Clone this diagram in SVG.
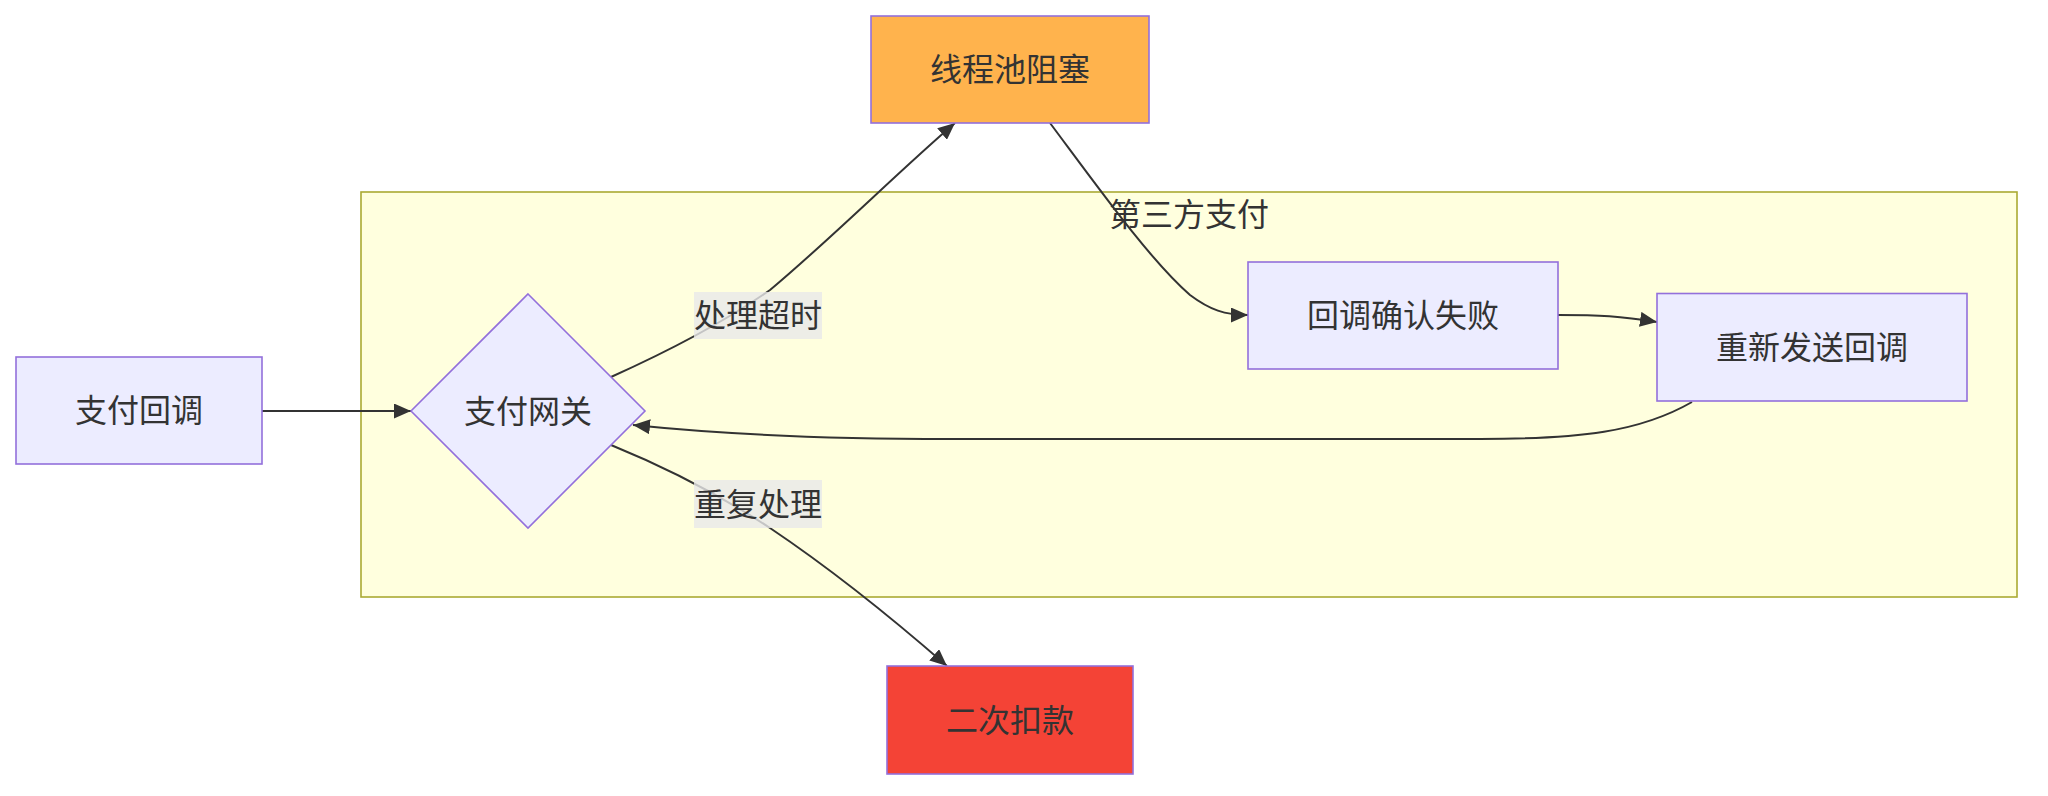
<svg xmlns="http://www.w3.org/2000/svg" width="2048" height="796" viewBox="0 0 2048 796">
<style>
.node rect, .node polygon { fill: #ECECFF; stroke: #9370DB; stroke-width: 1.6; }
.lbl { font-family: "Noto Sans CJK SC", "Noto Sans", "Liberation Sans", sans-serif; font-size: 32px; fill: #333333; text-anchor: middle; dominant-baseline: central; }
.edge { fill: none; stroke: #333333; stroke-width: 2; }
.elbg { fill: #E8E8E8; fill-opacity: 0.8; }
</style>
<defs>
<marker id="arrow" viewBox="0 0 17 15" refX="17" refY="7.5" markerWidth="17" markerHeight="15" markerUnits="userSpaceOnUse" orient="auto">
<path d="M0,0 L17,7.5 L0,15 z" fill="#333333"/>
</marker>
</defs>
<rect width="2048" height="796" fill="#FFFFFF"/>
<g id="cluster-third-party">
<rect x="361" y="192" width="1656" height="405" fill="#FFFFDE" stroke="#AAAA33" stroke-width="1.6"/>
<text class="lbl" x="1189" y="212">第三方支付</text>
</g>
<g id="connectors">
<path class="edge" d="M262,411 L411,411" marker-end="url(#arrow)"/>
<path class="edge" d="M611,377 C660,355 720,325 770,290 C830,240 900,170 955,123" marker-end="url(#arrow)"/>
<path class="edge" d="M1050,123 C1100,190 1150,260 1190,295 C1210,310 1225,315 1248,315" marker-end="url(#arrow)"/>
<path class="edge" d="M1558,315 C1600,315 1620,316 1657,322" marker-end="url(#arrow)"/>
<path class="edge" d="M1692,402 C1640,432 1580,439 1480,439 L950,439 C820,439 720,434 633,425" marker-end="url(#arrow)"/>
<path class="edge" d="M611,445 C660,465 720,495 770,528 C840,575 900,625 947,666" marker-end="url(#arrow)"/>
</g>
<g id="edge-labels">
<g id="label-timeout">
<rect class="elbg" x="694" y="292" width="128" height="47"/>
<text class="lbl" x="758" y="313">处理超时</text>
</g>
<g id="label-repeat">
<rect class="elbg" x="694" y="480" width="128" height="48"/>
<text class="lbl" x="758" y="501.5">重复处理</text>
</g>
</g>
<g id="node-callback" class="node">
<rect x="16" y="357" width="246" height="107"/>
<text class="lbl" x="139" y="408">支付回调</text>
</g>
<g id="node-gateway" class="node">
<polygon points="528,294 645,411 528,528 411,411"/>
<text class="lbl" x="528" y="408.5">支付网关</text>
</g>
<g id="node-threadpool" class="node">
<rect x="871" y="16" width="278" height="107" style="fill:#FFB34D"/>
<text class="lbl" x="1010" y="67">线程池阻塞</text>
</g>
<g id="node-confirm-fail" class="node">
<rect x="1248" y="262" width="310" height="107"/>
<text class="lbl" x="1403" y="313">回调确认失败</text>
</g>
<g id="node-resend" class="node">
<rect x="1657" y="293.5" width="310" height="107.5"/>
<text class="lbl" x="1812" y="344.5">重新发送回调</text>
</g>
<g id="node-double-charge" class="node">
<rect x="887" y="666" width="246" height="108" style="fill:#F44336"/>
<text class="lbl" x="1010" y="717.5">二次扣款</text>
</g>
</svg>
